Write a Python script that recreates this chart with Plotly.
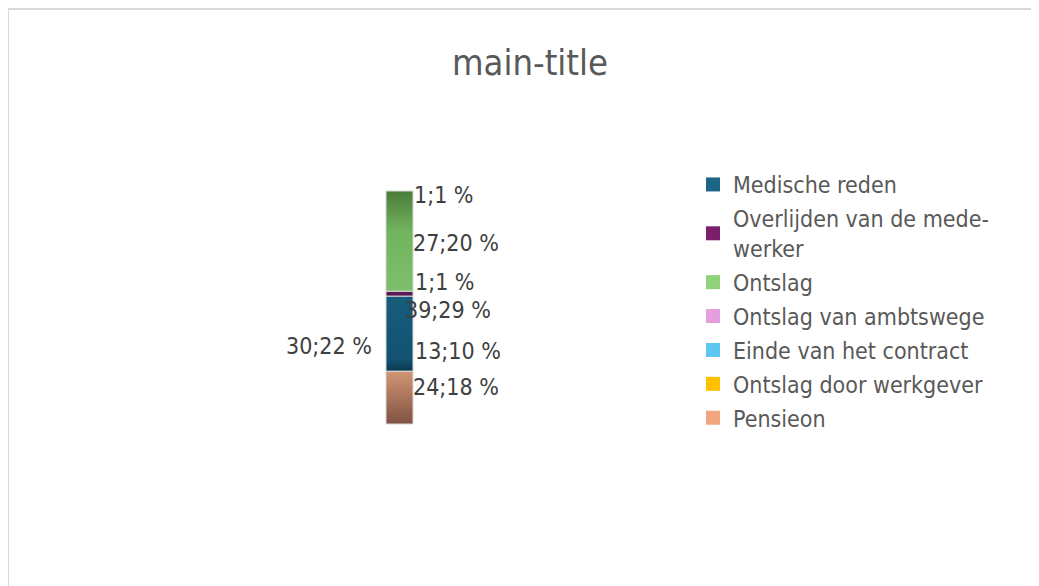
import plotly.graph_objs as go

W, H = 1039, 586
OFF = 8  # page body margin: the figure is drawn 8px right and down

# data
categories = ["Medische reden", "Overlijden van de mede-<br>werker", "Ontslag",
              "Ontslag van ambtswege", "Einde van het contract",
              "Ontslag door werkgever", "Pensieon"]
values = [39, 1, 27, 1, 13, 30, 24]
legend_colors = ["#1b6586", "#7b1f6c", "#8fd27a", "#e59ede", "#5cc8f2", "#ffc000", "#f2a67f"]
# share (%) of the pie diameter each slice shows on the front rim (pie seen edge-on)
front_share = [32.2, 2.1, 43.0, 0, 0, 0, 22.7]
# order of the visible slices along the rim, bottom -> top
rim_order = [6, 0, 1, 2]

# shading of the rim (bottom -> top)
rim_shade = {
    0: [[0, "#0b3950"], [0.15, "#135271"], [1, "#175c7c"]],
    1: [[0, "#5a1a4f"], [1, "#5a1a4f"]],
    2: [[0, "#7dbf6a"], [0.6, "#72b35e"], [1, "#4b7c3b"]],
    6: [[0, "#7f5242"], [1, "#d29676"]],
}

total = sum(values)
labels = [f"{v};{round(v / total * 100)} %" for v in values]

FONT = "DejaVu Sans Condensed, DejaVu Sans, sans-serif"


def px_x(p):
    return (p - OFF) / W


def px_y(p):
    return 1 - (p - OFF) / H


# label placement in screen pixels (x, y, anchor)
label_pos = {
    0: (403, 310, "left"),
    1: (413, 282, "left"),
    2: (411, 243, "left"),
    3: (412, 195, "left"),
    4: (413, 351, "left"),
    5: (374, 346, "right"),
    6: (411, 387, "left"),
}

# map pixels -> axis units: y 0..100 spans the rim from px 424 up to px 191
y_bot_px, y_top_px = 424 - OFF, 191 - OFF
ppu = (y_bot_px - y_top_px) / 100.0
y_range = [-(H - y_bot_px) / ppu, 100 + y_top_px / ppu]
cx, half_w = 399.5 - OFF, 13.5

fig = go.Figure()

base = 0
for i in rim_order:
    h = front_share[i]
    fig.add_trace(go.Scatter(
        x=[cx - half_w, cx + half_w, cx + half_w, cx - half_w, cx - half_w],
        y=[base, base, base + h, base + h, base],
        mode="lines", fill="toself",
        line=dict(color="#d8d8d8", width=1),
        fillgradient=dict(type="vertical", colorscale=rim_shade[i]),
        showlegend=False, hoverinfo="skip"))
    base += h

for i, name in enumerate(categories):
    fig.add_trace(go.Scatter(
        x=[None], y=[None], mode="markers", name=name,
        marker=dict(symbol="square", size=14, color=legend_colors[i]),
        legendgroup=str(i)))

for i, t in enumerate(labels):
    px, py, anchor = label_pos[i]
    fig.add_annotation(x=px_x(px), y=px_y(py), xref="paper", yref="paper",
                       text=t, showarrow=False, xanchor=anchor, yanchor="middle",
                       font=dict(size=23, color="#404040"))

# chart frame
fig.add_shape(type="rect", xref="paper", yref="paper",
              x0=px_x(8), y0=px_y(9), x1=1.05, y1=-0.05,
              line=dict(color="#d9d9d9", width=2), fillcolor="rgba(0,0,0,0)")

fig.update_layout(
    width=W, height=H,
    margin=dict(l=0, r=0, t=0, b=0),
    paper_bgcolor="white", plot_bgcolor="white",
    font=dict(family=FONT, color="#595959"),
    title=dict(text="main-title", x=px_x(530), xanchor="center",
               y=px_y(62), yanchor="middle",
               font=dict(family=FONT, size=36, color="#595959")),
    xaxis=dict(range=[0, W], visible=False, fixedrange=True),
    yaxis=dict(range=y_range, visible=False, fixedrange=True),
    legend=dict(x=px_x(693), y=px_y(163), xanchor="left", yanchor="top",
                font=dict(family=FONT, size=23, color="#595959"),
                tracegroupgap=1, bgcolor="rgba(0,0,0,0)"),
)

fig.write_html("out.html")
